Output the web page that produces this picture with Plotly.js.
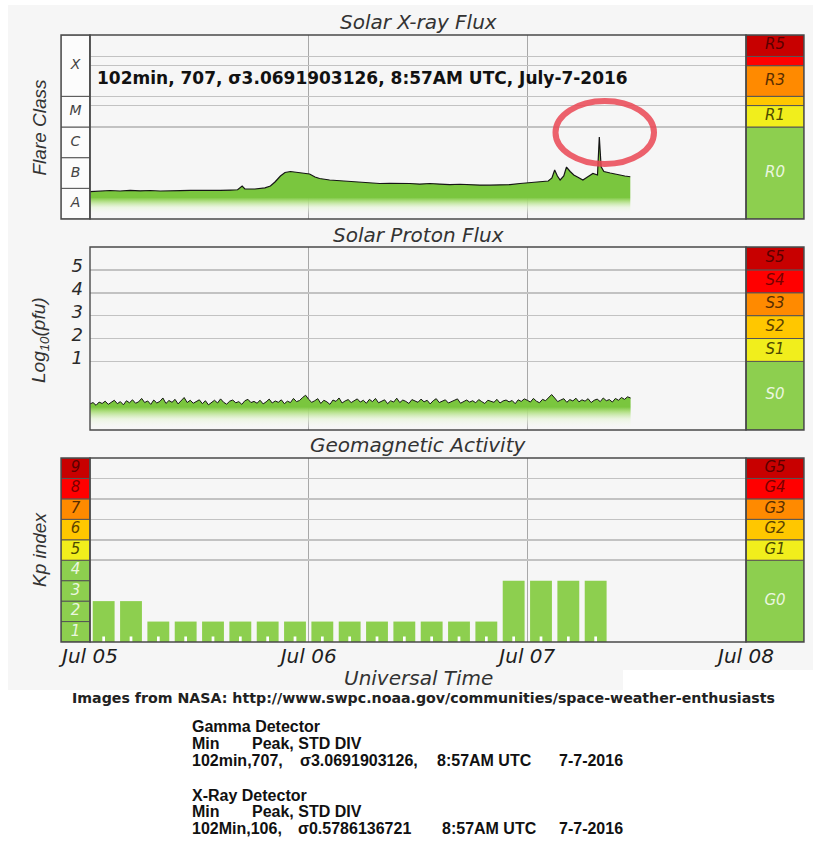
<!DOCTYPE html>
<html><head><meta charset="utf-8">
<script src="https://cdn.plot.ly/plotly-3.0.1.min.js"></script>
<style>html,body{margin:0;padding:0;background:#fff;}#chart{width:815px;height:856px;}</style>
</head><body><div id="chart"></div>
<script>
// ---------------- DATA ----------------
const timeRange = ['2016-07-05 00:00', '2016-07-08 00:00'];
const dayTicks = ['2016-07-05', '2016-07-06', '2016-07-07', '2016-07-08'];
const dayLabels = ['Jul 05', 'Jul 06', 'Jul 07', 'Jul 08'];

// GOES X-ray flux (W/m^2)
const xrayTime = [
 '2016-07-05 00:00','2016-07-05 01:06','2016-07-05 02:12','2016-07-05 03:18','2016-07-05 04:24','2016-07-05 05:30',
 '2016-07-05 06:36','2016-07-05 07:42','2016-07-05 08:48','2016-07-05 09:54','2016-07-05 11:00','2016-07-05 12:06',
 '2016-07-05 13:12','2016-07-05 14:18','2016-07-05 15:24','2016-07-05 16:12','2016-07-05 16:42','2016-07-05 17:00',
 '2016-07-05 18:06','2016-07-05 19:12','2016-07-05 19:48','2016-07-05 20:18','2016-07-05 20:54','2016-07-05 21:24',
 '2016-07-05 22:00','2016-07-05 22:30','2016-07-05 23:00','2016-07-05 23:36',
 '2016-07-06 00:06','2016-07-06 00:42','2016-07-06 01:12','2016-07-06 02:18','2016-07-06 03:24','2016-07-06 04:30',
 '2016-07-06 05:36','2016-07-06 06:42','2016-07-06 07:48','2016-07-06 08:54','2016-07-06 10:00','2016-07-06 11:06',
 '2016-07-06 12:12','2016-07-06 13:18','2016-07-06 14:24','2016-07-06 15:30','2016-07-06 16:36','2016-07-06 17:42',
 '2016-07-06 18:48','2016-07-06 19:54','2016-07-06 21:00','2016-07-06 22:06','2016-07-06 23:12',
 '2016-07-07 00:00','2016-07-07 00:48','2016-07-07 01:42','2016-07-07 02:18','2016-07-07 02:42','2016-07-07 03:00',
 '2016-07-07 03:18','2016-07-07 03:36','2016-07-07 04:00','2016-07-07 04:18','2016-07-07 04:42','2016-07-07 05:06',
 '2016-07-07 05:30','2016-07-07 06:06','2016-07-07 06:36','2016-07-07 07:12','2016-07-07 07:42','2016-07-07 07:54',
 '2016-07-07 08:06','2016-07-07 08:24','2016-07-07 09:06','2016-07-07 09:36','2016-07-07 10:12','2016-07-07 10:42',
 '2016-07-07 11:18'
];
const xrayFlux = [
 7.8e-8, 8.2e-8, 8.5e-8, 8.2e-8, 8.6e-8, 8.3e-8,
 8.5e-8, 8.2e-8, 8.5e-8, 8.4e-8, 8.6e-8, 8.5e-8,
 8.3e-8, 8.6e-8, 8.8e-8, 9.0e-8, 1.19e-7, 9.5e-8,
 9.5e-8, 1.03e-7, 1.19e-7, 1.61e-7, 2.52e-7, 3.28e-7,
 3.54e-7, 3.41e-7, 3.28e-7, 3.16e-7,
 2.93e-7, 2.34e-7, 2.09e-7, 1.87e-7, 1.76e-7, 1.67e-7,
 1.61e-7, 1.51e-7, 1.44e-7, 1.46e-7, 1.49e-7, 1.44e-7,
 1.38e-7, 1.44e-7, 1.38e-7, 1.33e-7, 1.36e-7, 1.30e-7,
 1.28e-7, 1.27e-7, 1.28e-7, 1.33e-7, 1.44e-7,
 1.53e-7, 1.55e-7, 1.67e-7, 1.73e-7, 2.17e-7, 3.96e-7,
 2.52e-7, 1.87e-7, 2.52e-7, 4.96e-7, 3.54e-7, 2.72e-7,
 2.34e-7, 1.87e-7, 2.34e-7, 3.04e-7, 2.72e-7, 4.7e-6,
 5.0e-7, 3.54e-7, 3.16e-7, 2.93e-7, 2.62e-7, 2.52e-7,
 2.39e-7
];

// GOES proton flux, log10(pfu), one value every 20 minutes from Jul 05 00:00
const protonStart = '2016-07-05 00:00';
const protonStepMin = 20;
const protonLog = [
 -0.86,-0.80,-0.92,-0.78,-0.84,-0.74,-0.88,-0.79,-0.70,-0.85,-0.76,-0.90,-0.72,-0.81,-0.68,-0.83,-0.77,-0.62,
 -0.80,-0.73,-0.88,-0.69,-0.82,-0.75,-0.60,-0.84,-0.71,-0.79,-0.66,-0.86,-0.74,-0.58,-0.80,-0.70,-0.83,-0.76,
 -0.68,-0.85,-0.72,-0.90,-0.78,-0.70,-0.82,-0.64,-0.79,-0.87,-0.74,-0.69,-0.81,-0.76,-0.88,-0.72,-0.66,-0.80,
 -0.75,-0.83,-0.70,-0.86,-0.77,-0.65,-0.82,-0.73,-0.79,-0.68,-0.85,-0.74,-0.80,-0.62,-0.76,-0.71,-0.58,-0.48,
 -0.66,-0.79,-0.72,-0.63,-0.84,-0.70,-0.77,-0.88,-0.69,-0.75,-0.60,-0.82,-0.73,-0.67,-0.80,-0.71,-0.64,-0.78,
 -0.70,-0.83,-0.66,-0.76,-0.62,-0.81,-0.74,-0.68,-0.85,-0.72,-0.78,-0.61,-0.80,-0.69,-0.75,-0.84,-0.67,-0.73,
 -0.79,-0.65,-0.77,-0.70,-0.86,-0.72,-0.63,-0.80,-0.74,-0.68,-0.82,-0.76,-0.71,-0.64,-0.83,-0.75,-0.69,-0.78,
 -0.72,-0.81,-0.67,-0.76,-0.84,-0.70,-0.74,-0.79,-0.66,-0.82,-0.73,-0.69,-0.77,-0.71,-0.85,-0.68,-0.75,-0.64,
 -0.70,-0.78,-0.62,-0.74,-0.81,-0.66,-0.72,-0.58,-0.45,-0.60,-0.76,-0.69,-0.63,-0.79,-0.67,-0.73,-0.61,-0.77,
 -0.68,-0.74,-0.63,-0.80,-0.70,-0.65,-0.76,-0.60,-0.72,-0.67,-0.78,-0.62,-0.70,-0.58,-0.66,-0.55,-0.60
];

// Planetary Kp index (3-hour intervals, centre times)
const kpTime = [
 '2016-07-05 01:30','2016-07-05 04:30','2016-07-05 07:30','2016-07-05 10:30','2016-07-05 13:30','2016-07-05 16:30',
 '2016-07-05 19:30','2016-07-05 22:30','2016-07-06 01:30','2016-07-06 04:30','2016-07-06 07:30','2016-07-06 10:30',
 '2016-07-06 13:30','2016-07-06 16:30','2016-07-06 19:30','2016-07-06 22:30','2016-07-07 01:30','2016-07-07 04:30',
 '2016-07-07 07:30'
];
const kpValue = [2,2,1,1,1,1,1,1,1,1,1,1,1,1,1,3,3,3,3];

// Scales
const flareEdges = [1e-8, 1e-7, 1e-6, 1e-5, 1e-4, 1e-2];
const flareLabels = ['A','B','C','M','X'];
const radioEdges = [1e-8, 1e-5, 5e-5, 1e-4, 1e-3, 2e-3, 1e-2];
const radioLabels = ['R0','R1','','R3','','R5'];
const protonEdges = [-2, 1, 2, 3, 4, 5, 6];
const protonLabels = ['S0','S1','S2','S3','S4','S5'];
const protonTicks = [1, 2, 3, 4, 5];
const geoEdges = [0, 4, 5, 6, 7, 8, 9];
const geoLabels = ['G0','G1','G2','G3','G4','G5'];
const kpEdges = [0,1,2,3,4,5,6,7,8,9];
const kpLabels = ['1','2','3','4','5','6','7','8','9'];
const kpLevel = [0,0,0,0,1,2,3,4,5];
const kpGrid = [4,5,6,7,8];

// ---------------- STYLE ----------------
const levelFill = ['#8dcf4f','#f1ee1c','#ffc700','#ff8a00','#ff0000','#c80000'];
const levelText = ['#eaf6df','#4d4a00','#5c4200','#5a2e00','#7a0000','#5a0000'];
const W = 815, H = 856;
const px = v => v / W;
const py = v => 1 - v / H;
const MAINX = [px(90), px(746)];
const LEFTX = [px(61), px(90)];
const RIGHTX = [px(746), px(804)];
const TOPY = [py(219), py(35)];
const MIDY = [py(430), py(247)];
const BOTY = [py(642), py(458)];
const CHARTFONT = 'DejaVu Sans, Verdana, sans-serif';
const ARIAL = 'Liberation Sans, Arial, sans-serif';
const FILLSCALE = [[0,'rgba(251,251,251,0)'],[0.45,'rgba(228,244,212,0.65)'],[0.8,'rgba(168,220,118,0.92)'],[1,'rgb(122,198,62)']];
const KP_TICK_HEIGHT = 0.27;   // height (Kp units) of the white foot tick inside each bar

const log10 = a => a.map(v => Math.log10(v));
const protonTime = protonLog.map((_, i) => {
  const d = new Date(protonStart.replace(' ', 'T') + ':00Z');
  d.setUTCMinutes(d.getUTCMinutes() + i * protonStepMin);
  return d.toISOString().slice(0, 16).replace('T', ' ');
});

const traces = [];

// Kp bars
traces.push({type:'bar', x:kpTime, y:kpValue, xaxis:'x', yaxis:'y',
  width: 2.4 * 3600 * 1000, marker:{color:'#8dcf4f', line:{width:0}}, hoverinfo:'skip'});
// small white tick at the foot of each Kp bar
traces.push({type:'bar', x:kpTime, y:kpValue.map(() => KP_TICK_HEIGHT), xaxis:'x', yaxis:'y',
  width: 0.3 * 3600 * 1000, marker:{color:'#ffffff', line:{width:0}}, hoverinfo:'skip'});

// proton flux (baseline + filled line)
traces.push({type:'scatter', mode:'lines', x:[protonTime[0], protonTime[protonTime.length-1]],
  y:[protonEdges[0], protonEdges[0]], xaxis:'x2', yaxis:'y2', line:{width:0, color:'rgba(0,0,0,0)'}, hoverinfo:'skip'});
traces.push({type:'scatter', mode:'lines', x:protonTime, y:protonLog, xaxis:'x2', yaxis:'y2',
  line:{color:'#151515', width:1}, fill:'tonexty',
  fillgradient:{type:'vertical', start:-1.95, stop:-1.0, colorscale:FILLSCALE}, hoverinfo:'skip'});

// x-ray flux (baseline + filled line)
const xrayLog = log10(xrayFlux);
traces.push({type:'scatter', mode:'lines', x:[xrayTime[0], xrayTime[xrayTime.length-1]],
  y:[Math.log10(flareEdges[0]), Math.log10(flareEdges[0])], xaxis:'x3', yaxis:'y3', line:{width:0, color:'rgba(0,0,0,0)'}, hoverinfo:'skip'});
traces.push({type:'scatter', mode:'lines', x:xrayTime, y:xrayLog, xaxis:'x3', yaxis:'y3',
  line:{color:'#151515', width:1.2}, fill:'tonexty',
  fillgradient:{type:'vertical', start:-7.88, stop:-7.3, colorscale:FILLSCALE}, hoverinfo:'skip'});

// side columns
function column(xa, ya, edges, labels, fills, textColors, size) {
  const lo = edges.slice(0, -1), hi = edges.slice(1);
  traces.push({type:'bar', x:lo.map(() => 0), base:lo, y:hi.map((h, i) => h - lo[i]), width:1,
    xaxis:xa, yaxis:ya, marker:{color:fills, line:{color:'#555', width:1}}, hoverinfo:'skip'});
  const keep = labels.map((t, i) => i).filter(i => labels[i] !== '');
  traces.push({type:'scatter', mode:'text', x:keep.map(() => 0), y:keep.map(i => (lo[i] + hi[i]) / 2),
    text:keep.map(i => labels[i]), xaxis:xa, yaxis:ya, cliponaxis:false, hoverinfo:'skip',
    textfont:{family:CHARTFONT, size:size, style:'italic', color:keep.map(i => textColors[i])}});
}
column('x4', 'y3', log10(flareEdges), flareLabels, flareLabels.map(() => '#fcfcfc'), flareLabels.map(() => '#444'), 14);
column('x5', 'y3', log10(radioEdges), radioLabels, levelFill, levelText, 15);
column('x6', 'y2', protonEdges, protonLabels, levelFill, levelText, 15);
column('x7', 'y', kpEdges, kpLabels, kpLevel.map(l => levelFill[l]), kpLevel.map(l => levelText[l]), 15);
column('x8', 'y', geoEdges, geoLabels, levelFill, levelText, 15);

// ---------------- LAYOUT ----------------
const mainX = (anchor, labels) => ({
  domain:MAINX, anchor:anchor, type:'date', range:timeRange, tickmode:'array', tickvals:dayTicks,
  ticktext:dayLabels, showticklabels:labels, showgrid:true, gridcolor:'#a8a8a8', gridwidth:1,
  zeroline:false, showline:false, ticks:'', fixedrange:true,
  tickfont:{family:CHARTFONT, size:20, style:'italic', color:'#1e1e1e'}
});
const colX = (domain, anchor) => ({domain:domain, anchor:anchor, range:[-0.5, 0.5], showgrid:false,
  zeroline:false, showticklabels:false, ticks:'', showline:false, fixedrange:true});

const frames = [['x','y'],['x2','y2'],['x3','y3'],['x4','y3'],['x5','y3'],['x6','y2'],['x7','y'],['x8','y']]
  .map(([a, b]) => ({type:'rect', xref:a + ' domain', yref:b + ' domain', x0:0, x1:1, y0:0, y1:1,
    line:{color:'#4a4a4a', width:1.4}, fillcolor:'rgba(0,0,0,0)', layer:'above'}));

const shapes = [
  {type:'rect', xref:'paper', yref:'paper', x0:px(8), x1:px(813), y0:py(690), y1:py(5),
    fillcolor:'#f6f6f6', line:{width:0}, layer:'below'},
  {type:'rect', xref:'paper', yref:'paper', x0:px(623), x1:px(815), y0:py(690), y1:py(670),
    fillcolor:'#ffffff', line:{width:0}, layer:'below'},
  ...frames,
  {type:'circle', xref:'paper', yref:'paper', x0:px(555.5), x1:px(654), y0:py(164), y1:py(101),
    line:{color:'rgba(234,70,84,0.85)', width:6}, fillcolor:'rgba(0,0,0,0)', layer:'above'}
];

const A = (text, x, y, font, extra) => Object.assign({text:text, x:px(x), y:py(y), xref:'paper', yref:'paper',
  xanchor:'center', yanchor:'middle', showarrow:false, font:font}, extra || {});
const titleFont = {family:CHARTFONT, size:20, style:'italic', color:'#333'};
const yTitleFont = {family:ARIAL, size:19, style:'italic', color:'#333'};
const blockFont = {family:ARIAL, size:16, weight:'bold', color:'#111'};
const L = {xanchor:'left'};

const annotations = [
  A('Solar X-ray Flux', 418, 22.5, titleFont),
  A('Solar Proton Flux', 418, 234.5, titleFont),
  A('Geomagnetic Activity', 418, 445, titleFont),
  A('Flare Class', 39, 127.5, yTitleFont, {textangle:-90}),
  A('Log<sub>10</sub>(pfu)', 40, 340, yTitleFont, {textangle:-90}),
  A('Kp index', 39, 550, yTitleFont, {textangle:-90}),
  A('Universal Time', 418, 678, titleFont),
  A('102min, 707, σ3.0691903126, 8:57AM UTC, July-7-2016', 95, 78,
    {family:CHARTFONT, size:17, weight:'bold', color:'#111'}, L),
  A('Images from NASA: http://www.swpc.noaa.gov/communities/space-weather-enthusiasts', 423.5, 697.5,
    {family:CHARTFONT, size:14.2, weight:'bold', color:'#222'}),
  A('Gamma Detector', 190, 726, blockFont, L),
  A('Min', 190, 743, blockFont, L),
  A('Peak, STD DIV', 250, 743, blockFont, L),
  A('102min,707,', 190, 760, blockFont, L),
  A('σ3.0691903126,', 298, 760, blockFont, L),
  A('8:57AM UTC', 435, 760, blockFont, L),
  A('7-7-2016', 557, 760, blockFont, L),
  A('X-Ray Detector', 190, 795, blockFont, L),
  A('Min', 190, 811, blockFont, L),
  A('Peak, STD DIV', 250, 811, blockFont, L),
  A('102Min,106,', 190, 828, blockFont, L),
  A('σ0.5786136721', 296, 828, blockFont, L),
  A('8:57AM UTC', 440, 828, blockFont, L),
  A('7-7-2016', 557, 828, blockFont, L)
];

const layout = {
  width:W, height:H, margin:{l:0, r:0, t:0, b:0}, paper_bgcolor:'#ffffff', plot_bgcolor:'#fbfbfb',
  showlegend:false, hovermode:false, barmode:'overlay', dragmode:false,
  xaxis:mainX('y', true), xaxis2:mainX('y2', false), xaxis3:mainX('y3', false),
  xaxis4:colX(LEFTX, 'y3'), xaxis5:colX(RIGHTX, 'y3'), xaxis6:colX(RIGHTX, 'y2'),
  xaxis7:colX(LEFTX, 'y'), xaxis8:colX(RIGHTX, 'y'),
  yaxis:{domain:BOTY, anchor:'x', range:[kpEdges[0], kpEdges[kpEdges.length-1]], tickmode:'array', tickvals:kpGrid,
    showticklabels:false, showgrid:true, gridcolor:'#c2c2c2', gridwidth:1.5, zeroline:false, ticks:'', fixedrange:true},
  yaxis2:{domain:MIDY, anchor:'x2', range:[protonEdges[0], protonEdges[protonEdges.length-1]], tickmode:'array',
    tickvals:protonTicks, ticktext:protonTicks.map(String), showgrid:true, gridcolor:'#c2c2c2', gridwidth:1.5,
    zeroline:false, ticks:'', fixedrange:true, ticklabelstandoff:6, ticklabelshift:-4,
    tickfont:{family:CHARTFONT, size:18, style:'italic', color:'#2a2a2a'}},
  yaxis3:{domain:TOPY, anchor:'x3', range:[Math.log10(flareEdges[0]), Math.log10(flareEdges[flareEdges.length-1])],
    tickmode:'array', tickvals:log10(radioEdges.slice(1, -1)), showticklabels:false, showgrid:true,
    gridcolor:'#c2c2c2', gridwidth:1.5, zeroline:false, ticks:'', fixedrange:true},
  shapes:shapes, annotations:annotations
};

Plotly.newPlot('chart', traces, layout, {displayModeBar:false, staticPlot:true});
</script></body></html>
